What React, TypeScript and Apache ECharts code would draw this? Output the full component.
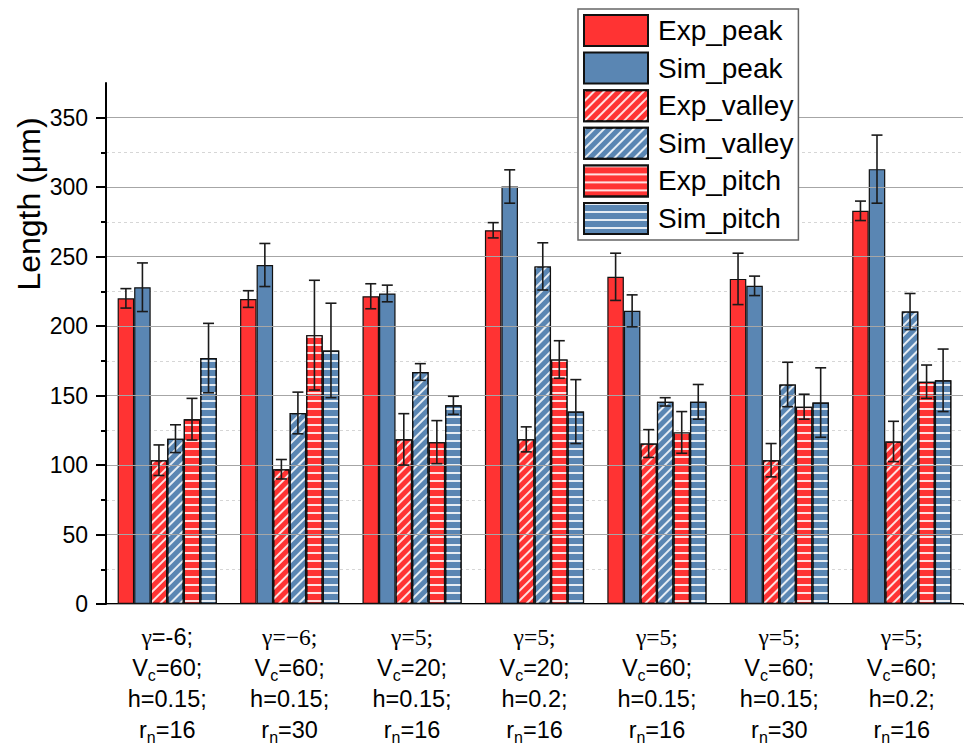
import React, { useEffect, useRef } from 'react';
import * as echarts from 'echarts';

// Category label parts
const gammaLabels = ['-6', '−6', '5', '5', '5', '5', '5'];
const vcLabels = ['60', '60', '20', '20', '60', '60', '60'];
const hLabels = ['0.15', '0.15', '0.15', '0.2', '0.15', '0.15', '0.2'];
const rnLabels = ['16', '30', '16', '16', '16', '30', '16'];

const seriesNames = ['Exp_peak', 'Sim_peak', 'Exp_valley', 'Sim_valley', 'Exp_pitch', 'Sim_pitch'];

const expPeak = [220, 219.5, 221.5, 269, 235.5, 234, 283];
const expPeakErr = [7, 6, 9, 5.5, 17, 18.5, 7];
const simPeak = [228, 244, 223.5, 300.5, 211, 229, 313];
const simPeakErr = [17.5, 15.5, 6, 12, 11.5, 7, 24.5];
const expValley = [103.5, 97, 118.5, 118.5, 115.5, 103.5, 117];
const expValleyErr = [11, 7, 18.5, 9, 10, 12, 14.5];
const simValley = [119, 137.5, 167, 243, 145.5, 158, 210.5];
const simValleyErr = [10, 15, 6, 17, 3, 16, 13];
const expPitch = [133, 193.5, 116.5, 176, 123.5, 142, 160];
const expPitchErr = [15, 39.5, 15.5, 13.5, 15, 9, 12];
const simPitch = [177, 182.5, 143, 138.5, 145.5, 145, 161];
const simPitchErr = [25, 34, 6.5, 23, 12.5, 25, 22.5];

const yMajorTicks = [0, 50, 100, 150, 200, 250, 300, 350];
const yMinorTicks = [25, 75, 125, 175, 225, 275, 325];

const RED = '#FF3333';
const BLUE = '#5A86B3';

const valleyDecal = {
  symbol: 'rect',
  symbolSize: 1,
  dashArrayX: [1, 0],
  dashArrayY: [1.5, 5],
  rotation: -Math.PI / 4,
  color: 'rgba(255,255,255,0.85)',
};
const pitchDecal = {
  symbol: 'rect',
  symbolSize: 1,
  dashArrayX: [1, 0],
  dashArrayY: [2, 6],
  rotation: 0,
  color: 'rgba(255,255,255,0.85)',
};

export default function App() {
  const ref = useRef<HTMLDivElement>(null);
  useEffect(() => {
    if (!ref.current) return;
    const chart = echarts.init(ref.current, null, { renderer: 'svg' });

    const categories = gammaLabels.map((g, i) => {
      const gLine = i === 0 ? `{g|γ}{a|=${g};}` : `{g|γ=${g};}`;
      return `${gLine}\n{a|V}{s|c}{a|=${vcLabels[i]};}\n{a|h=${hLabels[i]};}\n{a|r}{s|n}{a|=${rnLabels[i]}}`;
    });

    const values = [expPeak, simPeak, expValley, simValley, expPitch, simPitch];
    const errors = [expPeakErr, simPeakErr, expValleyErr, simValleyErr, expPitchErr, simPitchErr];
    const colors = [RED, BLUE, RED, BLUE, RED, BLUE];
    const decals = [null, null, valleyDecal, valleyDecal, pitchDecal, pitchDecal];

    const errData: number[][] = [];
    values.forEach((arr, si) => {
      arr.forEach((v, ci) => errData.push([ci, v, errors[si][ci], si]));
    });

    const barSeries = seriesNames.map((name, si) => ({
      name,
      type: 'bar',
      data: values[si],
      barGap: '0%',
      barCategoryGap: '19%',
      itemStyle: {
        color: colors[si],
        borderColor: '#111',
        borderWidth: 1.2,
        ...(decals[si] ? { decal: decals[si] } : {}),
      },
      z: 2,
    }));

    const option: any = {
      animation: false,
      backgroundColor: '#fff',
      grid: { left: 106, right: 3, top: 83, bottom: 143, containLabel: false, outerBoundsMode: 'none' },
      legend: {
        data: seriesNames,
        orient: 'vertical',
        left: 578,
        top: 9,
        itemWidth: 64,
        itemHeight: 31,
        itemGap: 4.6,
        padding: [5, 5, 5, 5],
        backgroundColor: '#fff',
        borderColor: '#666',
        borderWidth: 1.5,
        icon: 'rect',
        textStyle: { fontSize: 28, fontFamily: 'Liberation Sans', color: '#000', padding: [0, 0, 0, 5] },
        z: 10,
      },
      xAxis: {
        type: 'category',
        data: categories,
        axisLine: { lineStyle: { color: '#000', width: 2 } },
        axisTick: { alignWithLabel: true, length: 10, lineStyle: { color: '#000', width: 2 } },
        axisLabel: {
          margin: 17,
          interval: 0,
          color: '#000',
          fontFamily: 'Liberation Sans',
          fontSize: 23.5,
          lineHeight: 31,
          rich: {
            a: { fontSize: 23.5, fontFamily: 'Liberation Sans', lineHeight: 31, color: '#000' },
            g: { fontSize: 23.5, fontFamily: 'Liberation Serif', lineHeight: 31, color: '#000' },
            s: { fontSize: 16, fontFamily: 'Liberation Sans', lineHeight: 14, verticalAlign: 'bottom', color: '#000' },
          },
        },
      },
      yAxis: [
        {
          type: 'value',
          min: 0,
          max: 375,
          interval: 50,
          position: 'left',
          axisLine: { show: true, lineStyle: { color: '#000', width: 2 } },
          axisTick: { show: true, length: 10, customValues: yMajorTicks, lineStyle: { color: '#000', width: 2 } },
          axisLabel: {
            customValues: yMajorTicks,
            margin: 18,
            fontSize: 23,
            fontFamily: 'Liberation Sans',
            color: '#000',
            formatter: (v: number) => (v % 50 === 0 ? String(v) : ''),
          },
          splitLine: { show: true, lineStyle: { color: '#a6a6a6', width: 1.2 } },
          z: 3,
        },
        {
          type: 'value',
          min: 0,
          max: 375,
          interval: 25,
          position: 'left',
          axisLine: { show: false },
          axisTick: { show: true, length: 5, customValues: yMinorTicks, lineStyle: { color: '#000', width: 2 } },
          axisLabel: { show: false },
          splitLine: { show: true, lineStyle: { color: '#d6d6d6', width: 1, type: [3, 3] } },
          z: 1,
        },
      ],
      graphic: [
        {
          type: 'text',
          x: 29,
          y: 204,
          rotation: Math.PI / 2,
          style: {
            text: 'Length (μm)',
            font: '32px "Liberation Sans"',
            fill: '#000',
            textAlign: 'center',
            textVerticalAlign: 'middle',
          },
        },
      ],
      series: [
        ...barSeries,
        {
          type: 'custom',
          name: 'err',
          data: errData,
          encode: { x: 0, y: 1 },
          z: 5,
          silent: true,
          renderItem: (params: any, api: any) => {
            const ci = api.value(0);
            const v = api.value(1);
            const e = api.value(2);
            const si = api.value(3);
            const band = api.size([1, 0])[0];
            const barW = (band * 0.81) / 6;
            const c = api.coord([ci, v]);
            const x = c[0] + (si - 2.5) * barW;
            const yTop = api.coord([ci, v + e])[1];
            const yBot = api.coord([ci, v - e])[1];
            const cap = 5.5;
            const st = { stroke: '#1a1a1a', lineWidth: 1.6 };
            return {
              type: 'group',
              children: [
                { type: 'line', shape: { x1: x, y1: yTop, x2: x, y2: yBot }, style: st },
                { type: 'line', shape: { x1: x - cap, y1: yTop, x2: x + cap, y2: yTop }, style: st },
                { type: 'line', shape: { x1: x - cap, y1: yBot, x2: x + cap, y2: yBot }, style: st },
              ],
            };
          },
        },
      ],
    };

    chart.setOption(option);
    return () => chart.dispose();
  }, []);
  return <div ref={ref} style={{ width: 966, height: 747, position: 'absolute', left: 0, top: 0 }} />;
}
